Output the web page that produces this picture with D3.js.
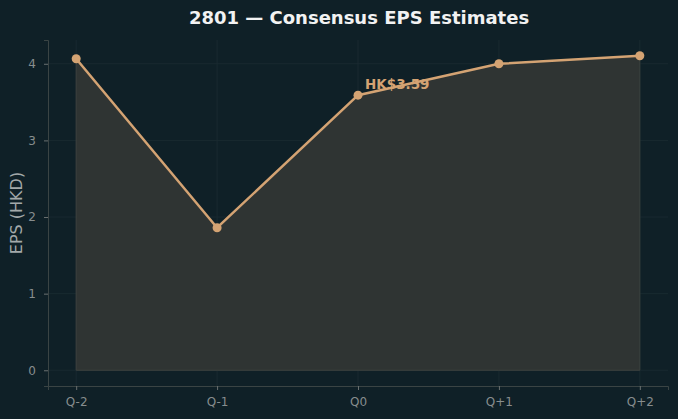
<!DOCTYPE html>
<html>
<head>
<meta charset="utf-8">
<script src="https://cdn.jsdelivr.net/npm/d3@7"></script>
<style>
  html, body { margin: 0; padding: 0; background: #0f2027; }
  svg { display: block; font-family: "DejaVu Sans", sans-serif; }
</style>
</head>
<body>
<div id="chart"></div>
<script>
const quarters = ['Q-2', 'Q-1', 'Q0', 'Q+1', 'Q+2'];
const epsValues = [4.065, 1.86, 3.59, 4.0, 4.105];
const yTicks = [0, 1, 2, 3, 4];
const highlightIndex = 2;

const width = 678, height = 419;
const margin = { top: 40, right: 10, bottom: 33, left: 48 };
const innerW = width - margin.left - margin.right;
const innerH = height - margin.top - margin.bottom;

const svg = d3.select('#chart').append('svg')
  .attr('width', width)
  .attr('height', height);

svg.append('rect').attr('width', width).attr('height', height).attr('fill', '#0f2027');

const g = svg.append('g').attr('transform', `translate(${margin.left},${margin.top})`);

// matplotlib-like 5% margins
const x = d3.scaleLinear().domain([-0.2, quarters.length - 1 + 0.2]).range([0, innerW]);
const yMax = d3.max(epsValues);
const yPad = yMax * 0.05;
const y = d3.scaleLinear().domain([-yPad, yMax + yPad]).range([innerH, 0]);

// grid
g.append('g').selectAll('line').data(yTicks).enter().append('line')
  .attr('x1', 0).attr('x2', innerW)
  .attr('y1', d => y(d)).attr('y2', d => y(d))
  .attr('stroke', '#1c2c32').attr('stroke-width', 0.8);
g.append('g').selectAll('line').data(quarters).enter().append('line')
  .attr('x1', (d, i) => x(i)).attr('x2', (d, i) => x(i))
  .attr('y1', 0).attr('y2', innerH)
  .attr('stroke', '#1c2c32').attr('stroke-width', 0.8);

// area
const area = d3.area()
  .x((d, i) => x(i))
  .y0(y(0))
  .y1(d => y(d));
g.append('path').datum(epsValues)
  .attr('d', area)
  .attr('fill', '#2f3433')
  .attr('stroke', '#3d423f')
  .attr('stroke-width', 1);

// line
const line = d3.line().x((d, i) => x(i)).y(d => y(d));
g.append('path').datum(epsValues)
  .attr('d', line)
  .attr('fill', 'none')
  .attr('stroke', '#d4a373')
  .attr('stroke-width', 2.5);

g.selectAll('.pt').data(epsValues).enter().append('circle')
  .attr('class', 'pt')
  .attr('cx', (d, i) => x(i))
  .attr('cy', d => y(d))
  .attr('r', 4.5)
  .attr('fill', '#d4a373');

// annotation
g.append('text')
  .attr('x', x(highlightIndex) + 7)
  .attr('y', y(epsValues[highlightIndex]) - 6)
  .attr('fill', '#d4a373')
  .attr('font-size', 13.5)
  .attr('font-weight', 'bold')
  .text('HK$' + epsValues[highlightIndex].toFixed(2));

// axes
const yAxis = d3.axisLeft(y).tickValues(yTicks).tickSize(4).tickPadding(8).tickFormat(d3.format('d'));
const xAxis = d3.axisBottom(x).tickValues(d3.range(quarters.length)).tickSize(4).tickPadding(7)
  .tickFormat(i => quarters[i]);

const ya = g.append('g').call(yAxis);
const xa = g.append('g').attr('transform', `translate(0,${innerH})`).call(xAxis);
[ya, xa].forEach(a => {
  a.select('.domain').attr('stroke', '#3a4444');
  a.selectAll('.tick line').attr('stroke', '#6a7070');
  a.selectAll('.tick text').attr('fill', '#878d8e').attr('font-size', 12).attr('font-family', '"DejaVu Sans", sans-serif');
});

// y label
svg.append('text')
  .attr('transform', `translate(22,${margin.top + innerH / 2}) rotate(-90)`)
  .attr('text-anchor', 'middle')
  .attr('fill', '#a3a9aa')
  .attr('font-size', 16)
  .text('EPS (HKD)');

// title
svg.append('text')
  .attr('x', 359)
  .attr('y', 24)
  .attr('text-anchor', 'middle')
  .attr('fill', '#f2f2f2')
  .attr('font-size', 18)
  .attr('font-weight', 'bold')
  .text('2801 — Consensus EPS Estimates');
</script>
</body>
</html>
